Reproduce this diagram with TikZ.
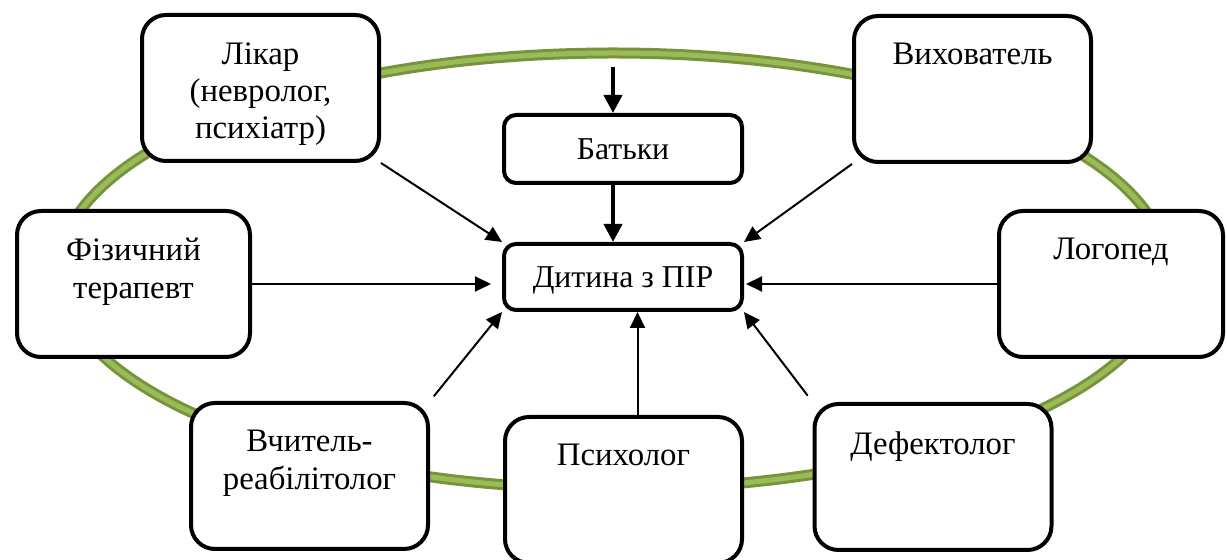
\documentclass[tikz,border=0pt]{standalone}
\usepackage{fontspec}
\setmainfont{Liberation Serif}
\usepackage{xcolor}
\usetikzlibrary{
    arrows.meta,
    calc,
    positioning
}
\definecolor{ringdark}{HTML}{77933C}
\definecolor{ringlight}{HTML}{9BBB59}
\tikzset{rolebox/.style={draw=black, fill=white, line width=2pt, rounded corners=12pt, minimum width=118.5pt, minimum height=73pt, inner sep=0pt}}
\tikzset{midbox/.style={draw=black, fill=white, line width=2pt, rounded corners=6pt, minimum width=119pt, minimum height=34pt, inner sep=0pt, text height=10.4pt, text depth=0pt, font=\fontsize{15.9}{18.5}\selectfont}}
\tikzset{roletxt/.style={anchor=north, yshift=-14.5pt, inner sep=0pt, align=center, font=\fontsize{16.4}{18.6}\selectfont}}
\tikzset{arr/.style={line width=1pt, -{Triangle[length=8pt, width=7.5pt]}}}
\tikzset{thk/.style={line width=2pt, -{Triangle[length=9pt, width=9pt]}}}

\begin{document}
\begin{tikzpicture}[x=0.5pt, y=-0.5pt]
                        \useasboundingbox (0, 0) rectangle (1227, 560);

                        % ring
                        \coordinate (ring) at (613, 271);
                        \draw[ringdark, line width=5.5pt] (ring) ellipse [x radius=554, y radius=218];
                        \draw[ringlight, line width=2.5pt] (ring) ellipse [x radius=554, y radius=218];

                        \node[rolebox] (likar) at (260.5, 88) {};
                        \node[rolebox] (vykh) at (972.5, 89) {};
                        \node[rolebox, minimum width=116.5pt] (fiz) at (133.5, 284) {};
                        \node[rolebox, minimum width=112pt] (log) at (1111, 284) {};
                        \node[rolebox] (vch) at (309.5, 476) {};
                        \node[rolebox] (psy) at (623.5, 490) {};
                        \node[rolebox] (def) at (933, 477) {};

                        \node[roletxt] (likar-t) at (likar.north) {Лікар\\(невролог,\\психіатр)};
                        \node[roletxt] (vykh-t) at (vykh.north) {Вихователь};
                        \node[roletxt] (fiz-t) at (fiz.north) {Фізичний\\терапевт};
                        \node[roletxt] (log-t) at (log.north) {Логопед};
                        \node[roletxt] (vch-t) at (vch.north) {Вчитель-\\реабілітолог};
                        \node[roletxt] (psy-t) at (psy.north) {Психолог};
                        \node[roletxt] (def-t) at (def.north) {Дефектолог};

                        \node[midbox] (bat) at (623, 149) {Батьки};
                        \node[midbox, minimum height=33pt] (child) at (623, 277) {Дитина з ПІР};

                        \coordinate (top) at (613, 67);
                        \coordinate (psyin) at ([xshift=7pt]psy.north);

                        \draw[thk] (top) -- (top |- bat.north);
                        \draw[thk] (top |- bat.south) -- (top |- child.north);

                        \draw[arr] (likar.south east) -- (child.north west);
                        \draw[arr] (vykh.south west) -- (child.north east);
                        \draw[arr, shorten >=5.5pt] (fiz.east) -- (fiz.east -| child.west);
                        \draw[arr, shorten >=1pt] (log.west) -- (log.west -| child.east);
                        \draw[arr, shorten <=3pt] (vch.north east) -- (child.south west);
                        \draw[arr] (psyin) -- (psyin |- child.south);
                        \draw[arr, shorten <=4pt] (def.north west) -- (child.south east);
                    \end{tikzpicture}
\end{document}
